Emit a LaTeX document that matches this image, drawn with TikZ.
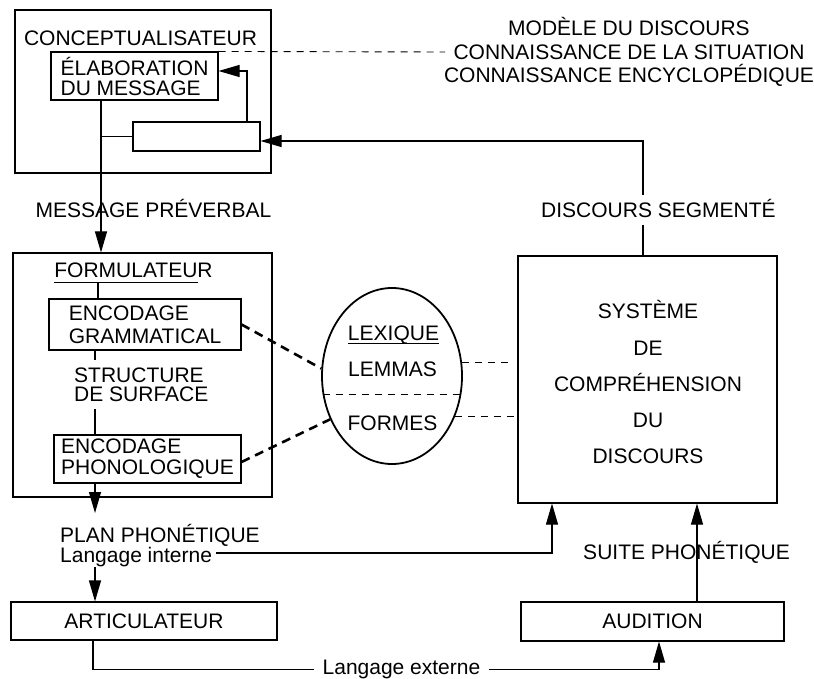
\documentclass[tikz,border=0pt]{standalone}
\usepackage{fontspec}
\setmainfont{Liberation Sans}
\usetikzlibrary{arrows.meta,shapes.geometric}
\begin{document}
\begin{tikzpicture}[x=1pt,y=-1pt,
  every node/.style={font=\fontsize{21}{23}\selectfont},
  box/.style={draw, line width=1.1pt, inner sep=0pt},
  txt/.style={inner sep=0pt, text height=15pt, text depth=0pt},
  ln/.style={line width=1.1pt},
  arr/.style={line width=1.1pt, -{Triangle[length=21pt,width=12pt]}},
  thindash/.style={line width=0.9pt, dash pattern=on 7pt off 6pt},
  thickdash/.style={line width=2.6pt, dash pattern=on 9pt off 6pt},
]
\useasboundingbox (0,0) rectangle (814,679);

% Conceptualisateur
\node[box, minimum width=256pt, minimum height=163pt] (concept) at (143,91.5) {};
\node[txt] (concepttitle) at (140.5,38) {CONCEPTUALISATEUR};
\node[box, minimum width=167pt, minimum height=48pt, align=left, font=\fontsize{21}{20}\selectfont] (elab) at (134.5,76) {ÉLABORATION\\DU MESSAGE};
\node[box, minimum width=127pt, minimum height=29pt] (monitor) at (196.5,136.5) {};

% knowledge text
\node[align=center, inner sep=0pt, font=\fontsize{21}{23.5}\selectfont] (know) at (629,52) {MODÈLE DU DISCOURS\\CONNAISSANCE DE LA SITUATION\\CONNAISSANCE ENCYCLOPÉDIQUE};
\coordinate (dashend) at (445,52);
\draw[thindash] (elab.north east) -- (dashend);

\node[txt] (msg) at (153.5,210) {MESSAGE PRÉVERBAL};

% Formulateur
\node[box, minimum width=259pt, minimum height=244pt] (formu) at (142.5,375) {};
\node[txt] (formtitle) at (133.5,270) {FORMULATEUR};
\draw[line width=1pt] ([yshift=-4.5pt]formtitle.south west) -- ++(144,0);
\coordinate (ul) at (98,282);
\node[box, minimum width=192pt, minimum height=51pt, align=left, font=\fontsize{21}{23}\selectfont] (gram) at (145,324.5) {ENCODAGE\\GRAMMATICAL};
\node[anchor=west, inner xsep=0pt, inner ysep=7.5pt, align=left, font=\fontsize{21}{19}\selectfont] (struct) at (74,384.5) {STRUCTURE\\DE SURFACE};
\node[box, minimum width=187pt, minimum height=48pt, align=left, font=\fontsize{21}{21}\selectfont] (phon) at (147.5,459) {ENCODAGE\\PHONOLOGIQUE};

% Lexique
\node[draw, ellipse, line width=1.8pt, minimum width=140pt, minimum height=176pt, inner sep=0pt] (lex) at (392,376) {};
\node[txt] (lexique) at (393.5,333) {LEXIQUE};
\draw[line width=1pt] ([yshift=-2.5pt]lexique.south west) -- ([yshift=-2.5pt]lexique.south east);
\node[txt] (lemmas) at (392.5,369) {LEMMAS};
\node[txt] (formes) at (392.5,423) {FORMES};

% Systeme
\node[box, minimum width=259pt, minimum height=247pt] (sys) at (647.5,379.5) {};
\node[align=center, inner sep=0pt, font=\fontsize{21}{36.25}\selectfont] (systxt) at (648,382.25) {SYSTÈME\\DE\\COMPRÉHENSION\\DU\\DISCOURS};
\node[txt, inner ysep=7.5pt, inner xsep=2pt] (seg) at (658.5,210) {DISCOURS SEGMENTÉ};

% bottom
\coordinate (pp) at (95,513);
\node[txt, anchor=west] (plan) at (60,535) {PLAN PHONÉTIQUE};
\node[txt, anchor=west, inner xsep=4pt] (lint) at (56,555) {Langage interne};
\coordinate (li) at (95,567);
\node[box, minimum width=266pt, minimum height=38pt] (artic) at (144,621) {ARTICULATEUR};
\node[box, minimum width=263pt, minimum height=39pt] (aud) at (652.5,621.5) {AUDITION};
\node[txt, inner xsep=8pt] (lext) at (401.5,666.5) {Langage externe};
\node[txt] (suite) at (686.5,552) {SUITE PHONÉTIQUE};

% connectors
\coordinate (cA) at (101,0);
\draw[arr] (elab.south -| cA) -- (formu.north -| cA);
\draw[ln] (monitor.west) -- (monitor.west -| cA);
\coordinate (cB) at (247,0);
\draw[arr] (monitor.north -| cB) |- ([yshift=5pt]elab.east);
\coordinate (cC) at (643,0);
\draw[ln] (sys.north -| cC) -- (seg.south -| cC);
\draw[arr] (seg.north -| cC) |- ([yshift=-4.5pt]monitor.east);

\draw[ln] (ul) -- (gram.north -| ul);
\coordinate (cD) at (95,0);
\draw[ln] (gram.south -| cD) -- (struct.north -| cD);
\draw[ln] (struct.south -| cD) -- (phon.north -| cD);
\draw[arr] (phon.south -| cD) -- (pp);
\draw[arr] (li) -- (artic.north -| li);
\coordinate (cE) at (552,0);
\draw[arr] ([yshift=2pt]lint.east) -| (sys.south -| cE);
\coordinate (cF) at (93,0);
\draw[ln] (artic.south -| cF) |- ([yshift=-3pt]lext.west);
\coordinate (cG) at (659,0);
\draw[arr] ([yshift=-3pt]lext.east) -| (aud.south -| cG);
\coordinate (cH) at (697,0);
\draw[arr] (aud.north -| cH) -- (sys.south -| cH);

% lexicon links
\draw[thickdash] (gram.east) -- (lex.174);
\draw[thickdash] ([yshift=-3pt]phon.east) -- (lex.215);
\draw[thindash] (lex.195) -- (lex.345);
\draw[thindash, shorten >=8pt] (lex.11) -- (lex.11 -| sys.west);
\draw[thindash] (lex.-33) -- (lex.-33 -| sys.west);
\end{tikzpicture}
\end{document}
